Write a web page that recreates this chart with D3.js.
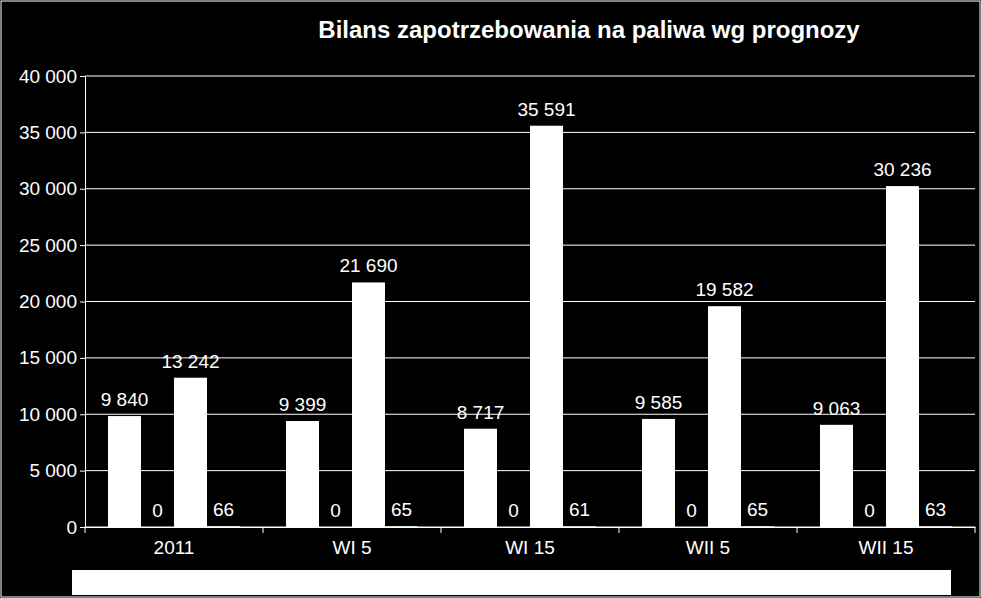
<!DOCTYPE html>
<html><head><meta charset="utf-8">
<script src="https://cdn.jsdelivr.net/npm/d3@7"></script>
<style>body{margin:0;background:#000}</style></head>
<body><svg id="c" width="981" height="598"></svg>
<script>
var categories = ["2011", "WI 5", "WI 15", "WII 5", "WII 15"];
var series1 = [9840, 9399, 8717, 9585, 9063];
var series2 = [0, 0, 0, 0, 0];
var series3 = [13242, 21690, 35591, 19582, 30236];
var series4 = [66, 65, 61, 65, 63];
var yTicks = [0, 5000, 10000, 15000, 20000, 25000, 30000, 35000, 40000];

var svg = d3.select("#c");
svg.append("rect").attr("x", 1).attr("y", 1).attr("width", 979).attr("height", 596)
  .attr("fill", "#000").attr("stroke", "#fff").attr("stroke-width", 1);

var fmt = function(v){ return d3.format(",")(v).replace(/,/g, " "); };
var x = d3.scaleBand().domain(categories).range([85, 975]);
var y = d3.scaleLinear().domain([0, 40000]).range([527, 76]);
var sub = d3.scaleBand().domain([0,1,2,3]).range([23, x.bandwidth() - 23]);

// grid
svg.selectAll(".grid").data(yTicks).enter().append("line")
  .attr("x1", 85).attr("x2", 975).attr("y1", d => y(d)).attr("y2", d => y(d))
  .attr("stroke", "#fff").attr("stroke-width", 1);

var rows = [];
categories.forEach(function(c, i){
  [series1, series2, series3, series4].forEach(function(s, k){
    rows.push({c: c, k: k, v: s[i]});
  });
});
svg.selectAll(".bar").data(rows).enter().append("rect")
  .attr("x", d => x(d.c) + sub(d.k)).attr("width", sub.bandwidth())
  .attr("y", d => y(d.v)).attr("height", d => y(0) - y(d.v)).attr("fill", "#fff");

svg.selectAll(".lbl").data(rows).enter().append("text")
  .attr("x", d => x(d.c) + sub(d.k) + sub.bandwidth()/2)
  .attr("y", d => y(d.v) - 10)
  .attr("text-anchor", "middle").attr("fill", "#fff")
  .attr("font-family", "Liberation Sans, Arial").attr("font-size", 19)
  .text(d => fmt(d.v));

// axes
var ya = svg.append("g").attr("transform", "translate(85,0)")
  .call(d3.axisLeft(y).tickValues(yTicks).tickFormat(fmt).tickSize(5));
var xa = svg.append("g").attr("transform", "translate(0,527)")
  .call(d3.axisBottom(x).tickSize(0).tickPadding(14));
[ya, xa].forEach(function(a){
  a.selectAll("path,line").attr("stroke", "#fff");
  a.selectAll("text").attr("fill", "#fff").attr("font-family", "Liberation Sans, Arial").attr("font-size", 19);
});
svg.selectAll(".xt").data(categories.concat(["end"])).enter().append("line")
  .attr("x1", (d,i) => 85 + i * x.step()).attr("x2", (d,i) => 85 + i * x.step())
  .attr("y1", 527).attr("y2", 533).attr("stroke", "#fff");

svg.append("text").attr("x", 589).attr("y", 38).attr("text-anchor", "middle")
  .attr("fill", "#fff").attr("font-family", "Liberation Sans, Arial")
  .attr("font-weight", "bold").attr("font-size", 24)
  .text("Bilans zapotrzebowania na paliwa wg prognozy");

svg.append("rect").attr("x", 72).attr("y", 570).attr("width", 879).attr("height", 25).attr("fill", "#fff");
</script></body></html>
